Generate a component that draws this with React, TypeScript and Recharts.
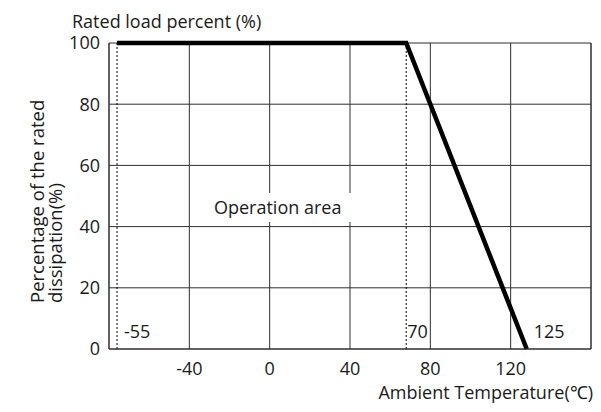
import {
  LineChart, Line, XAxis, YAxis, CartesianGrid, ReferenceLine, ReferenceArea,
} from "recharts";

// derating curve: full load up to the knee, then linear drop to zero
const temps = [-76, 68, 128];
const loads = [100, 100, 0];
const xTicks = [-40, 0, 40, 80, 120];
const yTicks = [0, 20, 40, 60, 80, 100];
const markLabels = ["-55", "70", "125"];

const data = temps.map((t, i) => ({ t, load: loads[i] }));

const FONT = "'Open Sans', sans-serif";
const INK = "#1a1a1a";
const GRID = "#2e2e2e";

function CornerLabel(props: any) {
  const { viewBox, text, dx } = props;
  if (!viewBox) return null;
  return (
    <text
      x={viewBox.x + dx}
      y={viewBox.y + viewBox.height - 11}
      fontFamily={FONT}
      fontSize={18}
      fill={INK}
    >
      {text}
    </text>
  );
}

function YTitle(props: any) {
  const { viewBox } = props;
  if (!viewBox) return null;
  return (
    <g fontFamily={FONT} fill={INK}>
      <text x={72} y={28} fontSize={18}>Rated load percent (%)</text>
      <text x={44} y={303} fontSize={18.5} transform="rotate(-90 44 303)">Percentage of the rated</text>
      <text x={62} y={303} fontSize={18.5} transform="rotate(-90 62 303)">dissipation(%)</text>
    </g>
  );
}

function XTitle(props: any) {
  const { viewBox } = props;
  if (!viewBox) return null;
  return (
    <text x={593} y={399} textAnchor="end" fontFamily={FONT} fontSize={18} fill={INK}>
      Ambient Temperature(℃)
    </text>
  );
}

export default function App() {
  return (
    <div style={{ position: "absolute", left: 0, top: 0, background: "#fff" }}>
      <LineChart
        width={601}
        height={412}
        data={data}
        margin={{ top: 43, right: 10, left: 0, bottom: 0 }}
      >
        <CartesianGrid stroke={GRID} strokeWidth={1} />
        <XAxis
          dataKey="t"
          type="number"
          domain={[-80, 160]}
          ticks={xTicks}
          height={63}
          tickLine={false}
          tickSize={0}
          tickMargin={13}
          axisLine={{ stroke: GRID }}
          tick={{ fontFamily: FONT, fontSize: 18, fill: INK }}
          label={<XTitle />}
        />
        <YAxis
          type="number"
          domain={[0, 100]}
          ticks={yTicks}
          width={109}
          tickLine={false}
          tickSize={0}
          tickMargin={9}
          axisLine={{ stroke: GRID }}
          tick={{ fontFamily: FONT, fontSize: 18, fill: INK }}
          label={<YTitle />}
        />
        <ReferenceLine x={160} stroke={GRID} />
        <ReferenceArea
          x1={-35}
          x2={43}
          y1={41.5}
          y2={51}
          fill="#fff"
          fillOpacity={1}
          stroke="none"
          label={{ value: "Operation area", position: "center", fontFamily: FONT, fontSize: 18, fill: INK }}
        />
        <ReferenceLine
          x={temps[0]}
          stroke="#000"
          strokeDasharray="2 2"
          label={<CornerLabel text={markLabels[0]} dx={7} />}
        />
        <ReferenceLine
          x={temps[1]}
          stroke="#000"
          strokeDasharray="2 2"
          label={<CornerLabel text={markLabels[1]} dx={1} />}
        />
        <ReferenceLine
          x={temps[2]}
          stroke="none"
          label={<CornerLabel text={markLabels[2]} dx={7} />}
        />
        <Line
          type="linear"
          dataKey="load"
          stroke="#000"
          strokeWidth={4.5}
          dot={false}
          isAnimationActive={false}
        />
      </LineChart>
    </div>
  );
}
